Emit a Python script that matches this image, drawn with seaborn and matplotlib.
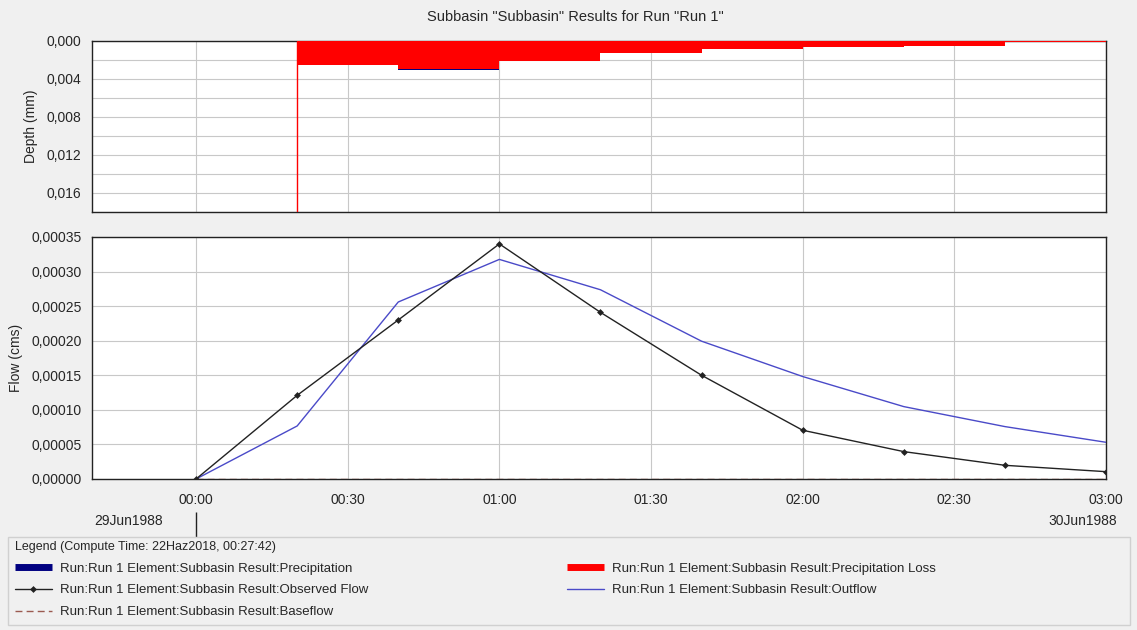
import matplotlib
matplotlib.use("Agg")
import matplotlib.pyplot as plt
import matplotlib.dates as mdates
from matplotlib.lines import Line2D
from matplotlib.patches import Rectangle
from matplotlib.ticker import FuncFormatter, MultipleLocator
import seaborn as sns
import pandas as pd

# ---------------- data ----------------
flow_times = ["1988-06-30 00:00", "1988-06-30 00:20", "1988-06-30 00:40", "1988-06-30 01:00",
              "1988-06-30 01:20", "1988-06-30 01:40", "1988-06-30 02:00", "1988-06-30 02:20",
              "1988-06-30 02:40", "1988-06-30 03:00"]
observed_flow = [0.0, 0.000121, 0.000230, 0.000340, 0.000241, 0.000150, 0.0000705, 0.0000396, 0.0000198, 0.0000106]
outflow = [0.0, 0.0000767, 0.000256, 0.0003176, 0.0002737, 0.0001993, 0.0001482, 0.0001047, 0.0000758, 0.0000531]
baseflow = [0.0] * len(flow_times)

depth_edges = ["1988-06-30 00:20", "1988-06-30 00:40", "1988-06-30 01:00", "1988-06-30 01:20",
               "1988-06-30 01:40", "1988-06-30 02:00", "1988-06-30 02:20", "1988-06-30 02:40",
               "1988-06-30 03:00"]
precipitation = [0.00254, 0.00300, 0.00206, 0.00124, 0.00088, 0.00062, 0.00048, 0.00012]
precip_loss = [0.00254, 0.00293, 0.00206, 0.00124, 0.00088, 0.00062, 0.00048, 0.00012]

x_start = "1988-06-29 23:39:25"
x_end = "1988-06-30 03:00"
depth_max = 0.018
flow_max = 0.00035

title = 'Subbasin "Subbasin" Results for Run "Run 1"'
legend_title = "Legend (Compute Time: 22Haz2018, 00:27:42)"
labels = ["Run:Run 1 Element:Subbasin Result:Precipitation",
          "Run:Run 1 Element:Subbasin Result:Precipitation Loss",
          "Run:Run 1 Element:Subbasin Result:Observed Flow",
          "Run:Run 1 Element:Subbasin Result:Outflow",
          "Run:Run 1 Element:Subbasin Result:Baseflow"]

# ---------------- style ----------------
sns.set_style("white")
plt.rcParams["font.family"] = ["Liberation Sans", "DejaVu Sans"]
plt.rcParams["font.size"] = 10

BG = "#f0f0f0"
GRID = "#c8c8c8"
RED = "#ff0000"
NAVY = "#000080"
BLUE = "#4a4ac8"
BROWN = "#9a5a50"

ft = pd.to_datetime(flow_times)
de = pd.to_datetime(depth_edges)
xs, xe = pd.to_datetime(x_start), pd.to_datetime(x_end)

fig = plt.figure(figsize=(11.37, 6.30), dpi=100, facecolor=BG)
W, H = 1137, 630
ax1 = fig.add_axes([92 / W, 1 - 212 / H, (1106 - 92) / W, (212 - 41) / H])
ax2 = fig.add_axes([92 / W, 1 - 479 / H, (1106 - 92) / W, (479 - 237) / H])

comma = lambda n: FuncFormatter(lambda v, p: f"{v:.{n}f}".replace(".", ","))

# ---- top panel: depth ----
ax1.set_facecolor("white")
ax1.fill_between(de, list(precipitation) + [precipitation[-1]], step="post", color=NAVY, lw=0, zorder=2)
ax1.fill_between(de, list(precip_loss) + [precip_loss[-1]], step="post", color=RED, lw=0, zorder=3)
ax1.vlines(de[0], 0, depth_max, color=RED, lw=1, zorder=3)
ax1.set_xlim(xs, xe)
ax1.set_ylim(depth_max, 0)
ax1.yaxis.set_major_locator(MultipleLocator(0.004))
ax1.yaxis.set_minor_locator(MultipleLocator(0.002))
ax1.yaxis.set_major_formatter(comma(3))
ax1.set_ylabel("Depth (mm)", fontsize=10, labelpad=6)
ax1.grid(True, which="both", axis="y", color=GRID, lw=0.8)
ax1.grid(True, which="major", axis="x", color=GRID, lw=0.8)
ax1.xaxis.set_major_locator(mdates.MinuteLocator(byminute=[0, 30]))
ax1.tick_params(axis="x", labelbottom=False, length=0)
ax1.tick_params(axis="y", which="major", length=4, color="#333333", labelsize=10)
ax1.tick_params(axis="y", which="minor", length=3, color="#333333")

# ---- bottom panel: flow ----
ax2.set_facecolor("white")
sns.lineplot(x=ft, y=baseflow, ax=ax2, color=BROWN, lw=1, linestyle=(0, (5, 3)), zorder=3)
sns.lineplot(x=ft, y=outflow, ax=ax2, color=BLUE, lw=1, zorder=4)
sns.lineplot(x=ft, y=observed_flow, ax=ax2, color="#222222", lw=1, marker="D",
             markersize=3.5, markeredgewidth=0, zorder=5)
ax2.set_xlim(xs, xe)
ax2.set_ylim(0, flow_max)
ax2.set_xlabel("")
ax2.yaxis.set_major_locator(MultipleLocator(0.00005))
ax2.yaxis.set_major_formatter(comma(5))
ax2.set_ylabel("Flow (cms)", fontsize=10, labelpad=6)
ax2.xaxis.set_major_locator(mdates.MinuteLocator(byminute=[0, 30]))
ax2.xaxis.set_major_formatter(mdates.DateFormatter("%H:%M"))
ax2.grid(True, axis="both", color=GRID, lw=0.8)
ax2.tick_params(axis="x", direction="inout", length=8, color="#333333", labelsize=10, pad=6)
ax2.tick_params(axis="y", length=4, color="#333333", labelsize=10)

for ax in (ax1, ax2):
    for s in ax.spines.values():
        s.set_color("#222222")
        s.set_linewidth(1)
        s.set_visible(True)

# date markers below the time axis
sec = ax2.secondary_xaxis(-0.135)
sec.set_xticks([ft[0]])
sec.tick_params(axis="x", direction="out", length=18, width=1, color="#222222", labelbottom=False)
sec.spines["bottom"].set_visible(False)
fig.text(163 / W, 1 - 521 / H, "29Jun1988", ha="right", va="center", fontsize=10)
fig.text(1117 / W, 1 - 521 / H, "30Jun1988", ha="right", va="center", fontsize=10)

fig.text(575 / W, 1 - 17 / H, title, ha="center", va="center", fontsize=10.5)

# ---- legend ----
fig.patches.append(Rectangle((8 / W, 1 - 625 / H), (1130 - 8) / W, (625 - 537) / H,
                             transform=fig.transFigure, facecolor=BG, edgecolor="#d0d0d0",
                             lw=1, zorder=0))
handles = [
    Line2D([], [], color=NAVY, lw=5, solid_capstyle="butt"),
    Line2D([], [], color="#222222", lw=1, marker="D", markersize=3.5, markeredgewidth=0),
    Line2D([], [], color=BROWN, lw=1, linestyle=(0, (5, 3))),
    Line2D([], [], color=RED, lw=5, solid_capstyle="butt"),
    Line2D([], [], color=BLUE, lw=1),
]
lab = [labels[0], labels[2], labels[4], labels[1], labels[3]]
FS = 9.5


def make_legend(colsp):
    return fig.legend(handles, lab, loc="upper left", ncol=2,
                      bbox_to_anchor=(11 / W, 1 - 537 / H),
                      bbox_transform=fig.transFigure, frameon=False,
                      title=legend_title, title_fontsize=9, fontsize=FS,
                      handlelength=2.8, handletextpad=0.6, labelspacing=0.72,
                      borderpad=0.3, borderaxespad=0, columnspacing=colsp,
                      alignment="left")


leg = make_legend(2.0)
fig.canvas.draw()
r = fig.canvas.get_renderer()
x_now = leg.get_texts()[3].get_window_extent(r).x0
target = 612
leg.remove()
em = FS * fig.dpi / 72
leg = make_legend(2.0 + (target - x_now) / em)

fig.savefig("out.png", dpi=100, facecolor=BG)
